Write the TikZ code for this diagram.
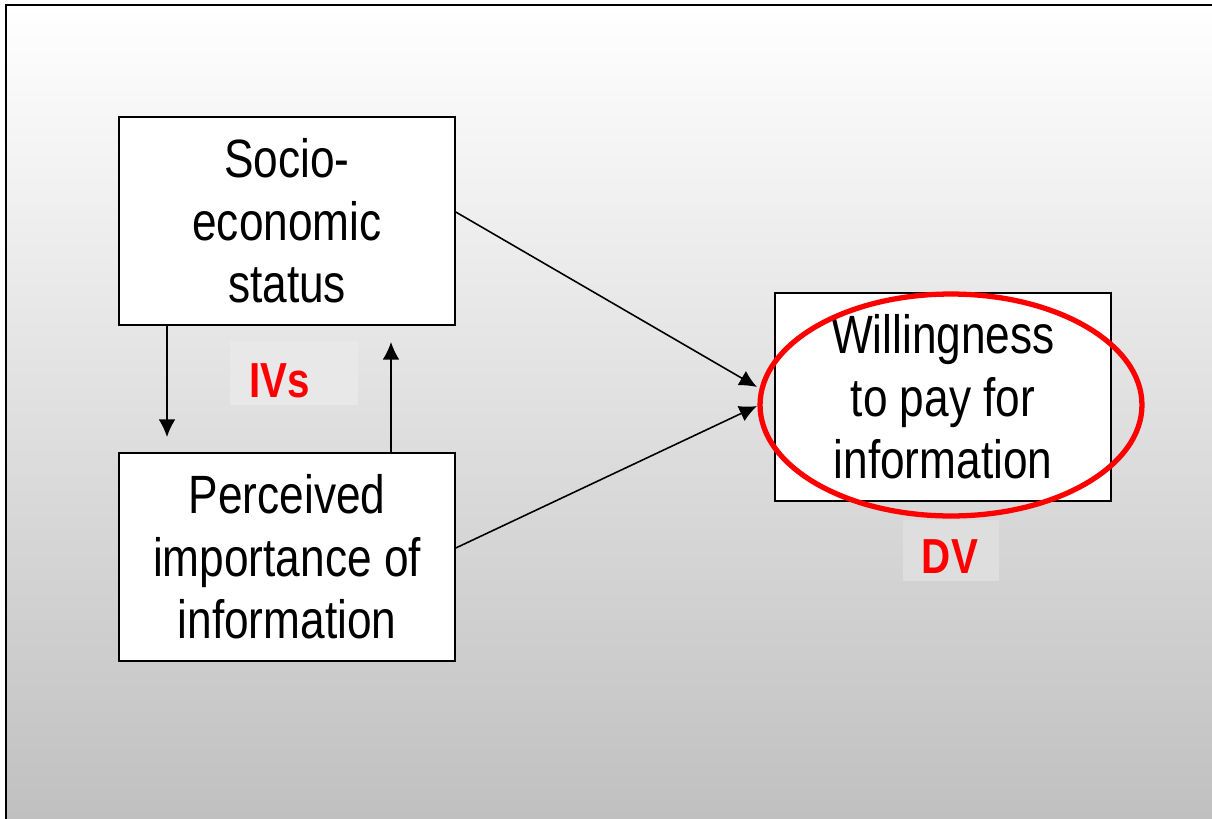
\documentclass[tikz,border=0pt]{standalone}
\usepackage{fontspec}
\setmainfont{Liberation Sans}
\newfontfamily\narrowfont{Liberation Sans}[FakeStretch=0.82]
\usetikzlibrary{arrows.meta}
\definecolor{bgbottom}{HTML}{C0C0C0}
\begin{document}
\begin{tikzpicture}[x=0.02cm,y=-0.02cm,
		box/.style={draw, line width=0.9pt, fill=white, minimum width=6.72cm, minimum height=4.16cm, align=center, font=\narrowfont\fontsize{30.7}{35.6}\selectfont},
		arr/.style={-{Latex[length=10pt,width=9.5pt]}, line width=0.9pt},
		lblbg/.style={fill=black!9, inner sep=0pt},
		lbl/.style={text=red, font=\narrowfont\bfseries\fontsize{28}{30}\selectfont, inner sep=0pt}]
		\useasboundingbox (0,0) rectangle (1212,818);
		\shade[top color=white, bottom color=bgbottom] (6,5) rectangle (1214,820);
		\draw[line width=1.2pt] (6,820) -- (6,5) -- (1214,5);
		% boxes
		\node[box] (ses) at (287,221) {Socio-\\economic\\status};
		\node[box] (pii) at (287,557) {Perceived\\importance of\\information};
		\node[box] (wtp) at (943,397) {Willingness\\to pay for\\information};
		% labels
		\node[lblbg, minimum width=2.58cm, minimum height=1.28cm] (ivsbg) at (294,373) {};
		\node[lbl] (ivs) at (280,381) {IVs};
		\node[lblbg, fill=black!13, minimum width=1.92cm, minimum height=1.22cm] (dvbg) at (951,550) {};
		\node[lbl] (dv) at (950,557) {DV};
		% arrows
		\coordinate (downend) at (167,437);
		\coordinate (upend) at (391,342);
		\coordinate (in1) at (757,387);
		\coordinate (in2) at (757,406);
		\draw[arr] (downend |- ses.south) -- (downend);
		\draw[arr] (upend |- pii.north) -- (upend);
		\draw[arr] ([yshift=0.18cm]ses.east) -- (in1);
		\draw[arr] ([yshift=0.18cm]pii.east) -- (in2);
		\draw[red, line width=3pt] (951,405) ellipse [x radius=3.82cm, y radius=2.22cm];
\end{tikzpicture}
\end{document}
